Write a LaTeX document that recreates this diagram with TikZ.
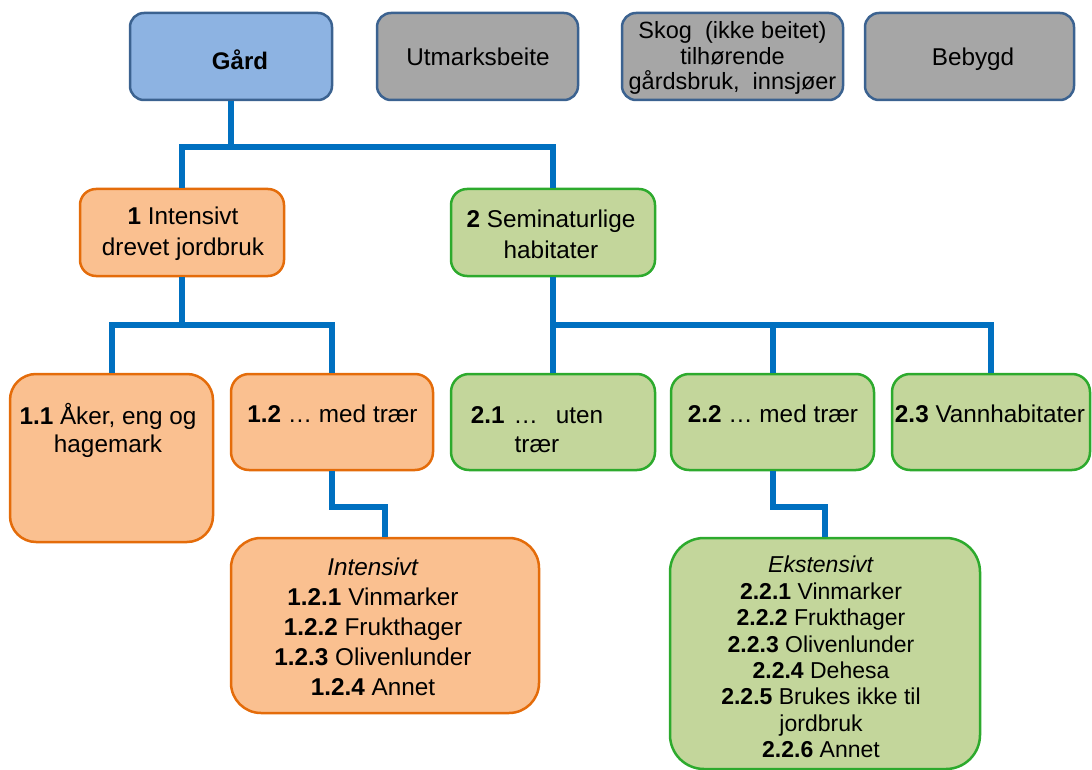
\documentclass[tikz,border=0pt]{standalone}
\usepackage{fontspec}
\setmainfont{Liberation Sans}
\usetikzlibrary{calc}
\definecolor{gardfill}{HTML}{8DB3E2}
\definecolor{greyfill}{HTML}{A6A6A6}
\definecolor{topline}{HTML}{3B6290}
\definecolor{orfill}{HTML}{FAC090}
\definecolor{orline}{HTML}{E46C0A}
\definecolor{grfill}{HTML}{C3D69B}
\definecolor{grline}{HTML}{2DAA2D}
\definecolor{conncol}{HTML}{0070C0}
\tikzset{
  box/.style={draw, line width=2.5pt, inner sep=0pt, rounded corners=14pt},
  topbox/.style={box, draw=topline},
  orbox/.style={box, draw=orline, fill=orfill},
  grbox/.style={box, draw=grline, fill=grfill},
  txt/.style={inner sep=0pt, align=center, font=\fontsize{24.3}{30}\selectfont},
  conn/.style={draw=conncol, line width=6pt, line join=miter},
}
\begin{document}
\begin{tikzpicture}[x=1pt,y=-1pt]
\useasboundingbox (0,0) rectangle (1092,770);
% top row
\node[topbox, fill=gardfill, minimum width=202pt, minimum height=87pt] (gard) at (231,56.5) {};
\node[topbox, fill=greyfill, minimum width=201pt, minimum height=87pt] (utm) at (477.5,56.5) {};
\node[topbox, fill=greyfill, minimum width=221pt, minimum height=87pt] (skog) at (732.5,56.5) {};
\node[topbox, fill=greyfill, minimum width=209pt, minimum height=87pt] (beb) at (969.5,56.5) {};
\node[txt, font=\fontsize{24}{30}\selectfont\bfseries] (tgard) at (240,60) {Gård};
\node[txt] (tutm) at (478,57) {Utmarksbeite};
\node[txt, font=\fontsize{23.5}{25.5}\selectfont] (tskog) at (732.5,58) {Skog\ \ (ikke beitet)\\tilhørende\\gårdsbruk,\ \ innsjøer};
\node[txt] (tbeb) at (973,59) {Bebygd};
% level 1
\node[orbox, minimum width=204pt, minimum height=87pt, rounded corners=16pt] (n1) at (182,232.5) {};
\node[grbox, minimum width=204pt, minimum height=87pt, rounded corners=16pt] (n2) at (553,232.5) {};
\node[txt, font=\fontsize{24.3}{31}\selectfont] (tn1) at (183,234) {\textbf{1} Intensivt\\drevet jordbruk};
\node[txt, font=\fontsize{24.3}{31}\selectfont] (tn2) at (551,234) {\textbf{2} Seminaturlige\\habitater};
% level 2
\node[orbox, minimum width=203pt, minimum height=168pt, rounded corners=26pt] (n11) at (111.5,458) {};
\node[orbox, minimum width=202pt, minimum height=96pt, rounded corners=18pt] (n12) at (332,422) {};
\node[grbox, minimum width=204pt, minimum height=96pt, rounded corners=18pt] (n21) at (553,422) {};
\node[grbox, minimum width=203pt, minimum height=96pt, rounded corners=18pt] (n22) at (772.5,422) {};
\node[grbox, minimum width=198pt, minimum height=96pt, rounded corners=18pt] (n23) at (991,422) {};
\node[txt, font=\fontsize{24.3}{28}\selectfont] (tn11) at (108,430) {\textbf{1.1} Åker, eng og\\hagemark};
\node[txt] (tn12) at (332.5,414) {\textbf{1.2} … med trær};
\node[txt, font=\fontsize{24.3}{29}\selectfont] (tn21) at (537,430) {\textbf{2.1}\hspace{9pt}…\hspace{18pt}uten\\trær};
\node[txt] (tn22) at (773,414) {\textbf{2.2} … med trær};
\node[txt] (tn23) at (990,414) {\textbf{2.3} Vannhabitater};
% level 3
\node[orbox, minimum width=308pt, minimum height=175pt, rounded corners=30pt] (n121) at (385,625.5) {};
\node[grbox, minimum width=310pt, minimum height=231pt, rounded corners=34pt] (n221) at (825,653.5) {};
\node[txt] (tn121) at (373,627) {\textit{Intensivt}\\\textbf{1.2.1} Vinmarker\\\textbf{1.2.2} Frukthager\\\textbf{1.2.3} Olivenlunder\\\textbf{1.2.4} Annet};
\node[txt, font=\fontsize{23}{26.4}\selectfont] (tn221) at (821,657) {\textit{Ekstensivt}\\\textbf{2.2.1} Vinmarker\\\textbf{2.2.2} Frukthager\\\textbf{2.2.3} Olivenlunder\\\textbf{2.2.4} Dehesa\\\textbf{2.2.5} Brukes ikke til\\jordbruk\\\textbf{2.2.6} Annet};
% connectors
\coordinate (j0) at (231,147);
\coordinate (j1) at (182,325);
\coordinate (j2) at (553,325);
\draw[conn] (gard.south) -- (gard.south |- j0);
\draw[conn] (n1.north) |- (j0) -| (n2.north);
\draw[conn] (n1.south) -- (j1);
\draw[conn] (n11.north) |- (j1) -| (n12.north);
\draw[conn] (n2.south) -- (n21.north);
\draw[conn] (j2) -| (n23.north);
\draw[conn] (n22.north) -- (n22.north |- j2);
\draw[conn] (n12.south) -- ++(0,36) -| (n121.north);
\draw[conn] (n22.south) -- ++(0,36) -| (n221.north);
\end{tikzpicture}
\end{document}
